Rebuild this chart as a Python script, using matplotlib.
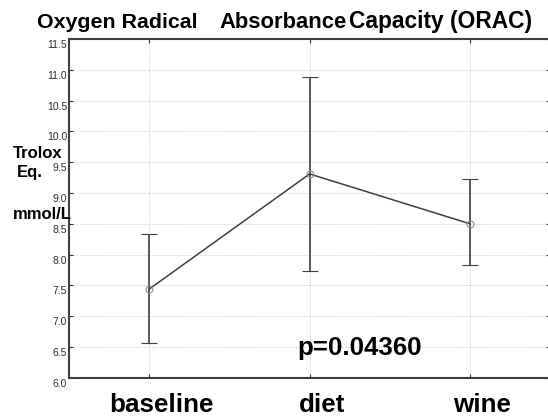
import matplotlib
matplotlib.use("Agg")
import matplotlib.pyplot as plt
import matplotlib.transforms as mtransforms
import numpy as np

plt.rcParams['font.family'] = ['Liberation Sans', 'DejaVu Sans']

groups = ["baseline", "diet", "wine"]
means = [7.44, 9.31, 8.50]
upper = [8.34, 10.89, 9.22]
lower = [6.56, 7.74, 7.83]
yticks = [6.0, 6.5, 7.0, 7.5, 8.0, 8.5, 9.0, 9.5, 10.0, 10.5, 11.0, 11.5]

x = np.arange(len(groups))
means = np.array(means)
err = [means - np.array(lower), np.array(upper) - means]

fig = plt.figure(figsize=(5.48, 4.18), dpi=100)
ax = fig.add_axes([0.126, 0.0964, 0.878, 0.810])

ax.errorbar(x, means, yerr=err, color='#404040', linewidth=1.1, elinewidth=1.2,
            capsize=6, capthick=1.2, marker='o', markersize=5,
            markerfacecolor='none', markeredgecolor='#909090', markeredgewidth=0.8)

ax.set_xlim(-0.5, 2.5)
ax.set_ylim(6.0, 11.5)
ax.set_yticks(yticks)
ax.set_yticklabels(["%.1f" % v for v in yticks], fontsize=7.5, color='#303030')
ax.set_xticks(x)
ax.set_xticklabels([])
ax.tick_params(direction='in', top=True, right=True, length=3, width=0.8, color='#303030')
ax.tick_params(axis='y', pad=1.5)
# tick labels sit a little below their grid lines in the original
shift = mtransforms.ScaledTranslation(0, -0.05, fig.dpi_scale_trans)
for lab in ax.get_yticklabels():
    lab.set_transform(lab.get_transform() + shift)
ax.grid(True, color='#c8c8c8', linestyle=':', linewidth=0.7)
for s in ['left', 'bottom', 'top']:
    ax.spines[s].set_color('#404040')
    ax.spines[s].set_linewidth(1.5)
ax.spines['right'].set_visible(False)

# category names below the axis
for xi, g in zip(x, groups):
    ax.text(xi + 0.075, -0.101, g, transform=ax.get_xaxis_transform(), ha='center', va='baseline',
            fontsize=18.7, fontweight='bold')

fig.text(297 / 548, 1 - 355 / 418, "p=0.04360", fontsize=18.6,
         fontweight='bold', ha='left', va='baseline')

fig.text(117 / 548, 1 - 28 / 418, "Oxygen Radical", fontsize=15.4, fontweight='bold', ha='center', va='baseline')
fig.text(283 / 548, 1 - 28 / 418, "Absorbance", fontsize=15.8, fontweight='bold', ha='center', va='baseline')
fig.text(441 / 548, 1 - 28 / 418, "Capacity (ORAC)", fontsize=16.4, fontweight='bold', ha='center', va='baseline')

fig.text(38 / 548, 1 - 158 / 418, "Trolox", fontsize=12, fontweight='bold', ha='center', va='baseline')
fig.text(30 / 548, 1 - 176.5 / 418, "Eq.", fontsize=12, fontweight='bold', ha='center', va='baseline')
fig.text(42 / 548, 1 - 219 / 418, "mmol/L", fontsize=12, fontweight='bold', ha='center', va='baseline')

fig.savefig("out.png", dpi=100)
